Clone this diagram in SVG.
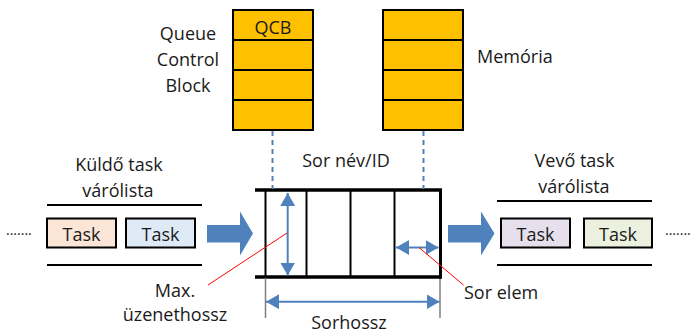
<svg xmlns="http://www.w3.org/2000/svg" width="691" height="334" viewBox="0 0 691 334">
<style>
text{font-family:"Open Sans","Liberation Sans",sans-serif;font-size:18px;fill:#1a1a1a}
.mid{text-anchor:middle}
.ybox{fill:#ffc000;stroke:#000;stroke-width:2}
.row{stroke:#000;stroke-width:2}
.dash{stroke:#4f81bd;stroke-width:2;stroke-dasharray:5,4;fill:none}
.blk{stroke:#000;fill:none}
.blue{stroke:#4f81bd;stroke-width:2;fill:none}
.red{stroke:#ff0000;stroke-width:1;fill:none}
.gray{stroke:#7f7f7f;stroke-width:1.5;fill:none}
.task{stroke:#000;stroke-width:2}
.big{fill:#4f81bd}
</style>
<defs>
<marker id="ah" viewBox="0 0 13 15" refX="13" refY="7.5" markerWidth="13" markerHeight="15" markerUnits="userSpaceOnUse" orient="auto-start-reverse">
<path d="M0,0 L13,7.5 L0,15 Z" fill="#4f81bd"/>
</marker>
</defs>

<g id="qcb">
<rect class="ybox" x="233" y="10" width="80" height="120"/>
<line class="row" x1="233" y1="40" x2="313" y2="40"/>
<line class="row" x1="233" y1="70" x2="313" y2="70"/>
<line class="row" x1="233" y1="100" x2="313" y2="100"/>
<text class="mid" x="273" y="34">QCB</text>
</g>
<g id="qcb-label">
<text class="mid" x="188" y="40">Queue</text>
<text class="mid" x="188" y="66">Control</text>
<text class="mid" x="188" y="92">Block</text>
</g>

<g id="memoria">
<rect class="ybox" x="383" y="10" width="80" height="120"/>
<line class="row" x1="383" y1="40" x2="463" y2="40"/>
<line class="row" x1="383" y1="70" x2="463" y2="70"/>
<line class="row" x1="383" y1="100" x2="463" y2="100"/>
<text x="477" y="63">Memória</text>
</g>

<g id="queue">
<line class="blk" x1="255" y1="190" x2="442" y2="190" stroke-width="3.5"/>
<line class="blk" x1="255" y1="277" x2="442" y2="277" stroke-width="3.5"/>
<line class="blk" x1="265.5" y1="190" x2="265.5" y2="277" stroke-width="2"/>
<line class="blk" x1="306.5" y1="190" x2="306.5" y2="277" stroke-width="2"/>
<line class="blk" x1="350.5" y1="190" x2="350.5" y2="277" stroke-width="2"/>
<line class="blk" x1="394.5" y1="190" x2="394.5" y2="277" stroke-width="2"/>
<line class="blk" x1="440.5" y1="190" x2="440.5" y2="278.5" stroke-width="3"/>
<text class="mid" x="346" y="167">Sor név/ID</text>
</g>

<g id="kuldo">
<text class="mid" x="119" y="171">Küldő task</text>
<text class="mid" x="118" y="197">várólista</text>
<line class="blk" x1="47" y1="205" x2="202" y2="205" stroke-width="2"/>
<line class="blk" x1="47" y1="265" x2="202" y2="265" stroke-width="2"/>
<rect class="task" x="47" y="218.5" width="69" height="29" fill="#fbe5d6"/>
<text class="mid" x="81.5" y="241">Task</text>
<rect class="task" x="126" y="218.5" width="69" height="29" fill="#deebf7"/>
<text class="mid" x="160.5" y="241">Task</text>
<text x="6" y="235" style="font-size:14px">.......</text>
</g>

<g id="vevo">
<text class="mid" x="574.5" y="167">Vevő task</text>
<text class="mid" x="574" y="193">várólista</text>
<line class="blk" x1="497" y1="201" x2="652" y2="201" stroke-width="2"/>
<line class="blk" x1="497" y1="265" x2="652" y2="265" stroke-width="2"/>
<rect class="task" x="501" y="218.5" width="69" height="29" fill="#e6e0ec"/>
<text class="mid" x="535.5" y="241">Task</text>
<rect class="task" x="584" y="218.5" width="68" height="29" fill="#ebf1de"/>
<text class="mid" x="618" y="241">Task</text>
<text x="665" y="235" style="font-size:14px">.......</text>
</g>

<g id="connectors">
<line class="dash" x1="272.5" y1="131" x2="272.5" y2="189"/>
<line class="dash" x1="423.5" y1="131" x2="423.5" y2="189"/>
<path class="big" d="M207,225 L240,225 L240,211.5 L253,233.5 L240,255.5 L240,242.5 L207,242.5 Z"/>
<path class="big" d="M448,225 L481,225 L481,211.5 L494.5,233.5 L481,255.5 L481,242.5 L448,242.5 Z"/>
<line class="blue" x1="287.7" y1="193" x2="287.7" y2="275.5" marker-start="url(#ah)" marker-end="url(#ah)"/>
<line class="blue" x1="396" y1="247.5" x2="438.5" y2="247.5" marker-start="url(#ah)" marker-end="url(#ah)"/>
<line class="gray" x1="265.5" y1="278" x2="265.5" y2="318"/>
<line class="gray" x1="440" y1="279" x2="440" y2="318"/>
<line class="blue" x1="266" y1="301.7" x2="439.5" y2="301.7" marker-start="url(#ah)" marker-end="url(#ah)"/>
<line class="red" x1="287" y1="233" x2="208" y2="285"/>
<line class="red" x1="419" y1="247.5" x2="463.5" y2="285"/>
</g>

<g id="labels">
<text class="mid" x="175" y="297">Max.</text>
<text class="mid" x="175" y="321">üzenethossz</text>
<text x="464" y="299">Sor elem</text>
<text class="mid" x="349" y="329">Sorhossz</text>
</g>
</svg>
